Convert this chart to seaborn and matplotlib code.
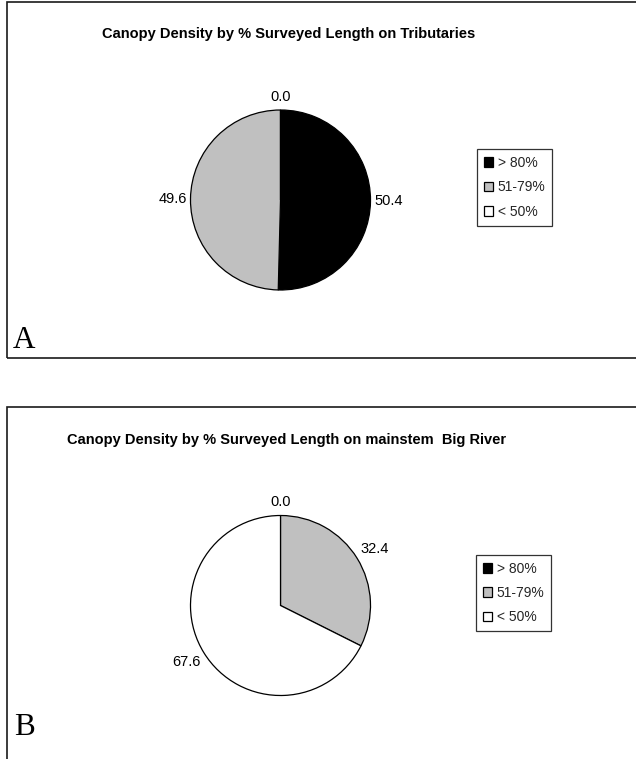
import numpy as np
import matplotlib
matplotlib.use("Agg")
import matplotlib.pyplot as plt
from matplotlib.patches import Rectangle
import seaborn as sns

# Canopy density classes and their colours
categories = ["> 80%", "51-79%", "< 50%"]
class_colors = ["#000000", "#C0C0C0", "#FFFFFF"]

# Percent of surveyed stream length in each class
tributaries = [50.4, 49.6, 0.0]
mainstem = [0.0, 32.4, 67.6]

titles = [
    "Canopy Density by % Surveyed Length on Tributaries",
    "Canopy Density by % Surveyed Length on mainstem  Big River",
]
panel_letters = ["A", "B"]

sns.set_theme(style="white")
plt.rcParams["font.family"] = ["Liberation Sans", "DejaVu Sans"]

W, H = 636, 759
fig = plt.figure(figsize=(W / 100, H / 100), dpi=100)


def fx(px):
    return px / W


def fy(py):
    return 1 - py / H


def draw_panel(values, title, letter, top, cx, cy, r, title_xy, legend_xy, letter_xy):
    # outer frame of the panel (runs off the right / bottom edge)
    fig.add_artist(Rectangle((fx(7), fy(top + 356)), fx(700), 356 / H,
                             transform=fig.transFigure, fill=False,
                             edgecolor="#1a1a1a", linewidth=1.2, clip_on=False))

    ax = fig.add_axes([fx(cx - r), fy(cy + r), 2 * r / W, 2 * r / H])
    wedges, _ = ax.pie(values, colors=class_colors, startangle=90,
                       counterclock=False, radius=1.0,
                       wedgeprops=dict(edgecolor="black", linewidth=0.9))
    ax.set_xlim(-1, 1)
    ax.set_ylim(-1, 1)
    ax.set_aspect("equal")
    ax.axis("off")

    # value labels just outside each slice
    for w, v in zip(wedges, values):
        mid = np.deg2rad((w.theta1 + w.theta2) / 2)
        c, s = np.cos(mid), np.sin(mid)
        if abs(c) < 0.2:
            dist, ha = 1.07, "center"
            va = "bottom" if s > 0 else "top"
        else:
            dist = 1.04
            ha = "left" if c > 0 else "right"
            va = "bottom" if s > 0.3 else ("top" if s < -0.3 else "center")
        ax.text(dist * c, dist * s, f"{v:.1f}", ha=ha, va=va,
                fontsize=10.5, color="black", clip_on=False)

    fig.text(fx(title_xy[0]), fy(title_xy[1]), title, ha="center", va="center",
             fontsize=10.5, fontweight="bold", color="black")

    leg = ax.legend(wedges, categories, loc="center",
                    bbox_to_anchor=(fx(legend_xy[0]), fy(legend_xy[1])),
                    bbox_transform=fig.transFigure, fontsize=10,
                    frameon=True, fancybox=False, edgecolor="black",
                    handlelength=0.7, handleheight=0.7, handletextpad=0.3,
                    labelspacing=0.75, borderpad=0.5, borderaxespad=0)
    leg.get_frame().set_linewidth(0.9)

    fig.text(fx(letter_xy[0]), fy(letter_xy[1]), letter, ha="left",
             va="baseline", fontsize=22.5, family=["Liberation Serif"],
             color="black")


draw_panel(tributaries, titles[0], panel_letters[0], top=2,
           cx=280.5, cy=200, r=90, title_xy=(289, 34),
           legend_xy=(514.5, 187.5), letter_xy=(13, 348))
draw_panel(mainstem, titles[1], panel_letters[1], top=407,
           cx=280.5, cy=605.5, r=90, title_xy=(287, 440),
           legend_xy=(513.5, 593), letter_xy=(14, 735))

fig.savefig("out.png", dpi=100, facecolor="white")
